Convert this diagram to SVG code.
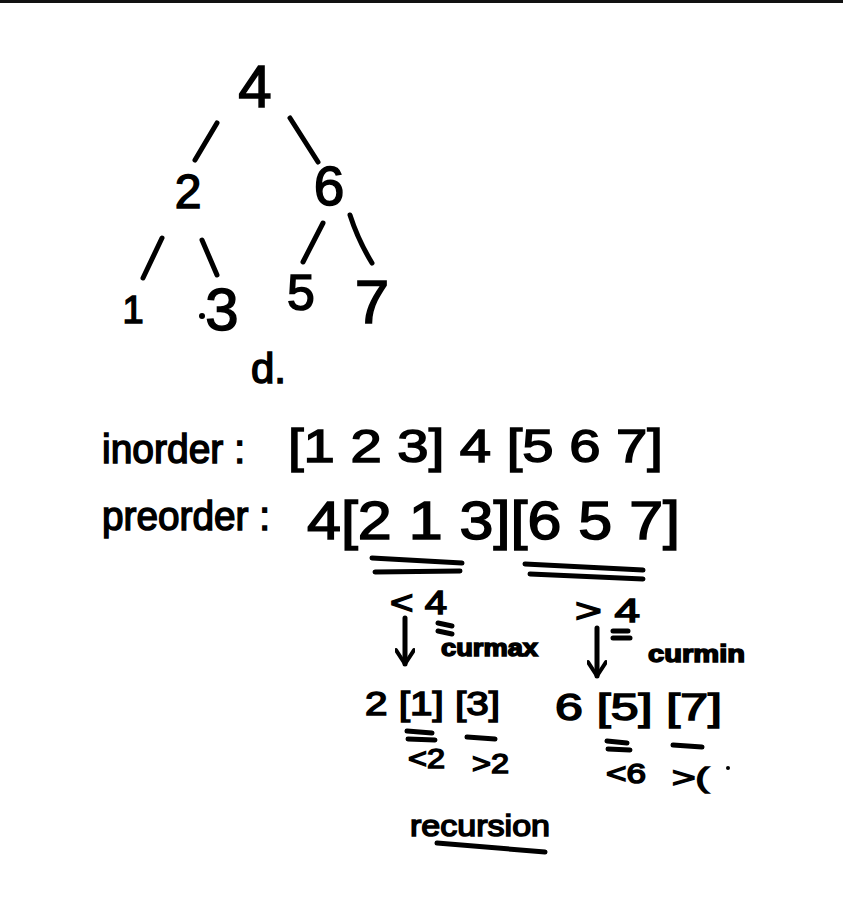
<svg xmlns="http://www.w3.org/2000/svg" width="843" height="907" viewBox="0 0 843 907">
<style>
.t{font-family:"Liberation Sans","DejaVu Sans",sans-serif;fill:#000;stroke:#000;stroke-width:1.5}
.b{font-weight:bold}
.e{stroke:#000;stroke-width:5;stroke-linecap:round;fill:none}
.u{stroke:#000;stroke-width:5;stroke-linecap:round;fill:none}
</style>
<defs>
<marker id="ah" viewBox="0 0 20 20" refX="18" refY="10" markerWidth="20" markerHeight="20" markerUnits="userSpaceOnUse" orient="auto">
<path d="M4,1 L18,10 L4,19" fill="none" stroke="#000" stroke-width="4" stroke-linecap="round" stroke-linejoin="round"/>
</marker>
</defs>
<rect width="843" height="907" fill="#fff"/>
<rect x="0" y="0" width="843" height="3" fill="#111"/>
<g id="edges">
<path class="e" d="M217,123 L195,160"/>
<path class="e" d="M290,118 L318,162"/>
<path class="e" d="M162,238 L143,278"/>
<path class="e" d="M202,240 L217,275"/>
<path class="e" d="M323,223 L303,262"/>
<path class="e" d="M350,215 Q358,240 372,263"/>
</g>
<g id="n4"><text class="t" x="255" y="107" font-size="60" text-anchor="middle">4</text></g>
<g id="n2"><text class="t" x="188" y="208" font-size="48" text-anchor="middle">2</text></g>
<g id="n6"><text class="t" x="329" y="205" font-size="55" text-anchor="middle">6</text></g>
<g id="n1"><text class="t" x="133" y="323" font-size="38" text-anchor="middle">1</text></g>
<g id="n3"><circle cx="202" cy="316" r="3"/><text class="t" x="222" y="330" font-size="60" text-anchor="middle">3</text></g>
<g id="n5"><text class="t" x="301" y="310" font-size="50" text-anchor="middle">5</text></g>
<g id="n7"><text class="t" x="372" y="323" font-size="62" text-anchor="middle">7</text></g>
<text class="t" x="251" y="383" font-size="42">d.</text>
<text class="t" x="102" y="463" font-size="40" textLength="143" lengthAdjust="spacingAndGlyphs">inorder :</text>
<text class="t" x="288" y="462" font-size="47" textLength="375" lengthAdjust="spacingAndGlyphs">[1 2 3] 4 [5 6 7]</text>
<text class="t" x="102" y="530" font-size="40" textLength="168" lengthAdjust="spacingAndGlyphs">preorder :</text>
<text class="t" x="307" y="539" font-size="53" textLength="373" lengthAdjust="spacingAndGlyphs">4[2 1 3][6 5 7]</text>
<path class="u" d="M372,558 L462,563 M375,572 L460,571 M525,564 L643,570 M530,574 L643,579"/>
<text class="t" x="390" y="614" font-size="34" textLength="57" lengthAdjust="spacingAndGlyphs">&lt; 4</text>
<text class="t" x="575" y="622" font-size="34" textLength="65" lengthAdjust="spacingAndGlyphs">&gt; 4</text>
<path class="u" d="M438,623 L452,626 M438,631 L452,634 M613,631 L628,631 M613,638 L630,638" stroke-width="4"/>
<path class="e" d="M405,618 L405,664" marker-end="url(#ah)"/>
<path class="e" d="M597,628 L597,676" marker-end="url(#ah)"/>
<text class="t b" x="441" y="656" font-size="24" textLength="97" lengthAdjust="spacingAndGlyphs">curmax</text>
<text class="t b" x="648" y="662" font-size="24" textLength="97" lengthAdjust="spacingAndGlyphs">curmin</text>
<text class="t" x="365" y="715" font-size="34" textLength="135" lengthAdjust="spacingAndGlyphs">2 [1] [3]</text>
<text class="t" x="555" y="720" font-size="36" textLength="167" lengthAdjust="spacingAndGlyphs">6 [5] [7]</text>
<path class="u" d="M407,731 L432,733 M408,739 L435,740 M467,737 L495,739 M607,741 L627,743 M608,749 L630,750 M673,745 L702,747"/>
<text class="t" x="408" y="768" font-size="28" textLength="37" lengthAdjust="spacingAndGlyphs">&lt;2</text>
<text class="t" x="472" y="773" font-size="28" textLength="37" lengthAdjust="spacingAndGlyphs">&gt;2</text>
<text class="t" x="606" y="783" font-size="28" textLength="40" lengthAdjust="spacingAndGlyphs">&lt;6</text>
<text class="t" x="672" y="787" font-size="28" textLength="37" lengthAdjust="spacingAndGlyphs">&gt;(</text>
<circle cx="728" cy="768" r="2"/>
<text class="t" x="410" y="836" font-size="30" textLength="140" lengthAdjust="spacingAndGlyphs">recursion</text>
<path class="u" d="M437,843 L545,852"/>
</svg>
